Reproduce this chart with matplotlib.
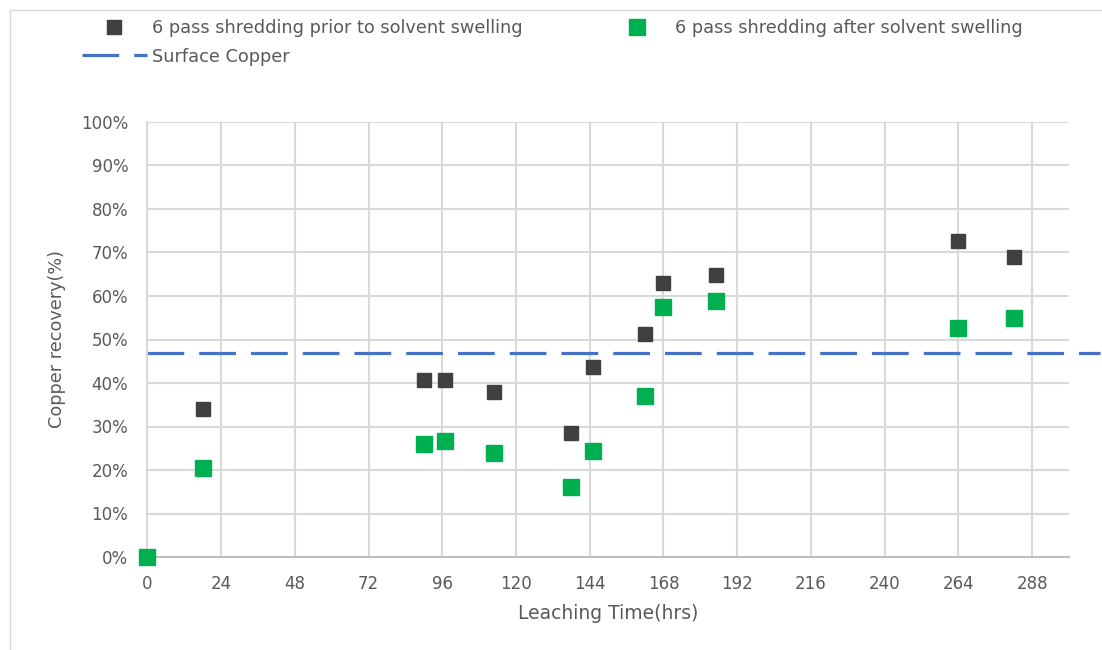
import matplotlib.pyplot as plt
from matplotlib.patches import Rectangle
from matplotlib.ticker import FuncFormatter

# Datos
tiempo = [0, 18, 90, 97, 113, 138, 145, 162, 168, 185, 264, 282]
antes_hinchado = [0, 34.0, 40.8, 40.7, 38.0, 28.4, 43.6, 51.2, 63.1, 64.8, 72.7, 68.9]
despues_hinchado = [0, 20.4, 26.0, 26.6, 24.0, 16.2, 24.4, 37.0, 57.4, 58.9, 52.6, 55.0]
cobre_superficie = 47.0
linea_x = [0, 310]

gris_texto = "#595959"

W, H = 1102, 650
fig = plt.figure(figsize=(W / 100, H / 100), dpi=100)
ax = fig.add_axes([147.3 / W, 1 - 557 / H, (1069 - 147.3) / W, (557 - 122) / H])

# marco del área del gráfico
fig.patches.append(Rectangle((10 / W, -0.1), 1.2, 1 - 10 / H + 0.1,
                             transform=fig.transFigure, fill=False,
                             edgecolor="#D9D9D9", linewidth=1.0))

ax.plot(linea_x, [cobre_superficie] * 2, color="#4472C4", linewidth=2.3,
        dashes=(11.5, 4.7), clip_on=False, label="Surface Copper", zorder=2)
ax.plot(tiempo, antes_hinchado, linestyle="none", marker="s", markersize=9.5,
        color="#404040", label="6 pass shredding prior to solvent swelling",
        zorder=3, clip_on=False)
ax.plot(tiempo, despues_hinchado, linestyle="none", marker="s", markersize=11,
        color="#00B050", label="6 pass shredding after solvent swelling",
        zorder=4, clip_on=False)

ax.set_xlim(0, 300)
ax.set_ylim(0, 100)
ax.set_xticks(range(0, 289, 24))
ax.set_yticks(range(0, 101, 10))
ax.yaxis.set_major_formatter(FuncFormatter(lambda v, p: f"{v:.0f}%"))
ax.grid(True, color="#D9D9D9", linewidth=1.5)
ax.set_axisbelow(True)
for lado in ["top", "right"]:
    ax.spines[lado].set_visible(False)
ax.spines["left"].set_color("#D9D9D9")
ax.spines["left"].set_linewidth(1.5)
ax.spines["bottom"].set_color("#BFBFBF")
ax.spines["bottom"].set_linewidth(1.5)
ax.tick_params(length=0, labelsize=12, colors=gris_texto)
ax.tick_params(axis="x", pad=12.8)
ax.tick_params(axis="y", pad=13.7)

ax.set_xlabel("Leaching Time(hrs)", fontsize=13.5, color=gris_texto, labelpad=8)
ax.set_ylabel("Copper recovery(%)", fontsize=12.7, color=gris_texto, labelpad=11)

h, l = ax.get_legend_handles_labels()
orden = [1, 0, 2]
fig.legend([h[i] for i in orden], [l[i] for i in orden], ncol=2,
           loc="upper left", bbox_to_anchor=(66 / W, 1 - 3 / H),
           frameon=False, fontsize=12.8, labelcolor=gris_texto,
           handlelength=3.65, handletextpad=0.3, columnspacing=4.6,
           labelspacing=0.6)

plt.savefig("out.png")
